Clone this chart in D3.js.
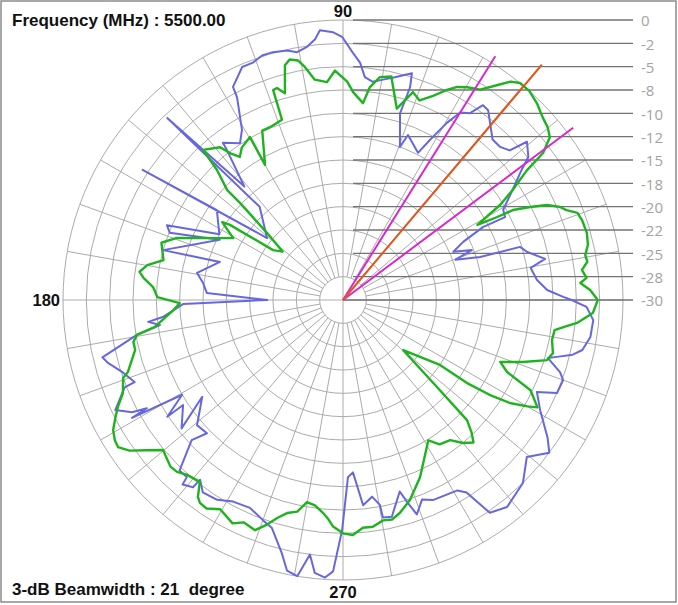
<!DOCTYPE html>
<html>
<head>
<meta charset="utf-8">
<script src="https://cdn.jsdelivr.net/npm/d3@7"></script>
<style>
  body { margin: 0; background: #fff; }
  svg { display: block; }
  .ring, .spoke { fill: none; stroke: #ababab; stroke-width: 1; }
  .levelLine { stroke: #737373; stroke-width: 1.4; }
  .levelLabel { fill: #a3a3a3; font-family: "Open Sans", sans-serif; font-size: 15px; }
  .angleLabel, .info { fill: #111; font-family: "Liberation Sans", Arial, sans-serif; font-weight: bold; }
</style>
</head>
<body>
<div id="polar-graph"></div>
<script>
/* global d3 */

// ring levels (dB) and the labels printed next to them
const dbTicks = [0, -2.5, -5, -7.5, -10, -12.5, -15, -17.5, -20, -22.5, -25, -27.5, -30];
const dbTickLabels = ['0', '-2', '-5', '-8', '-10', '-12', '-15', '-18', '-20', '-22', '-25', '-28', '-30'];

const angleLabels = [90, 180, 270];

const freqText = 'Frequency (MHz) : 5500.00';
const beamText = '3-dB Beamwidth : 21  degree';

// [angle deg (ccw from east), level dB]
const bluePattern = [
  [0, -5.5], [0.8, -6.4], [2.8, -8.1], [5.9, -9.1], [9.7, -9.6], [11.5, -7.9], [14.6, -9.6], [16.7, -10.2],
  [17.4, -14.6], [19.7, -17.2], [21.2, -15.2], [23.6, -17.1], [25.8, -15.7], [27.5, -13.1], [27.1, -10.5],
  [29.4, -10.3], [32.9, -8.4], [35.7, -6.6], [37.7, -4.9], [40.7, -4.0], [41.9, -6.0], [44.3, -6.5], [47.0, -6.5],
  [52.6, -4.4], [54.3, -4.3], [55.8, -5.8], [58.0, -6.3], [59.6, -8.0], [61.5, -10.5], [63.0, -12.3],
  [68.5, -11.0], [69.6, -12.5], [73.0, -9.1], [72.5, -6.1], [73.1, -4.6], [76.9, -5.5], [79.7, -6.0],
  [82.2, -6.4], [84.4, -6.0], [85.9, -4.5], [87.7, -3.5], [90.2, -1.8], [92.1, -1.3], [94.9, -1.0],
  [96.1, -1.9], [98.1, -2.6], [100.5, -3.0], [102.6, -2.6], [105.8, -2.4], [108.3, -2.4], [110.8, -2.8],
  [113.4, -2.8], [117.3, -4.3], [117.6, -5.5], [120.7, -8.8], [123.3, -9.9], [127.4, -8.8], [127.7, -9.6],
  [131.0, -13.9], [134.0, -2.9], [131.8, -16.6], [140.8, -19.5], [147.0, -4.4], [144.5, -13.4], [152.0, -15.0],
  [157.0, -9.5], [158.8, -10.1], [154.0, -15.3], [164.5, -10.0], [162.8, -16.2], [169.5, -14.1], [173.1, -14.9],
  [177.1, -15.4], [180.0, -21.9], [181.4, -12.9], [185.4, -10.6], [186.4, -9.0], [187.8, -10.2], [189.6, -7.6],
  [193.4, -3.5], [194.9, -3.9], [198.0, -5.1], [201.5, -6.0], [201.8, -4.8], [205.8, -2.9], [208.0, -4.4],
  [208.9, -6.0], [209.2, -4.1], [210.5, -10.0], [213.6, -7.4], [213.3, -9.5], [218.5, -7.9], [214.5, -11.7],
  [220.6, -9.4], [224.4, -9.6], [222.8, -7.9], [226.2, -4.7], [228.6, -4.7], [229.0, -3.8], [231.3, -4.3],
  [231.5, -5.4], [233.9, -4.5], [237.8, -4.7], [241.4, -5.4], [245.9, -5.6], [250.0, -4.9], [252.7, -4.4],
  [256.4, -2.1], [258.3, -0.4], [260.6, 0.0], [262.6, -2.5], [264.1, -0.6], [266.3, -0.2], [267.9, -0.9],
  [269.8, -5.4], [271.6, -11.0], [273.3, -11.5], [275.6, -7.9], [278.4, -8.7], [280.2, -7.7], [280.4, -6.3],
  [282.7, -6.2], [286.5, -8.6], [287.6, -7.3], [289.0, -5.7], [291.6, -7.0], [294.2, -6.5], [301.0, -6.2],
  [302.7, -5.5], [304.6, -2.3], [308.4, -1.7], [314.5, -2.5], [319.5, -4.1], [323.5, -2.5], [326.1, -3.6],
  [330.8, -5.8], [334.6, -7.0], [336.5, -5.0], [340.0, -4.9], [341.6, -5.5], [344.2, -7.2], [345.1, -6.3],
  [346.6, -4.7], [348.2, -3.8], [351.5, -3.2], [355.4, -3.1], [358.4, -3.9], [360, -5.5]
];

const greenPattern = [
  [0, -2.7], [2.3, -3.5], [3.0, -3.9], [4.1, -4.5], [5.2, -3.8], [7.2, -4.2], [8.9, -3.5], [10.5, -3.6],
  [12.7, -3.1], [15.4, -2.9], [18.5, -3.0], [20.4, -3.2], [21.9, -4.2], [23.2, -4.7], [25.0, -5.9],
  [26.4, -7.6], [27.9, -9.4], [28.3, -11.3], [29.2, -13.5], [31.2, -10.3], [32.9, -8.4], [35.2, -5.9],
  [36.3, -3.4], [38.2, -1.8], [40.2, -1.3], [42.5, -1.0], [45.4, -0.4], [48.3, 0.0], [50.8, 0.0], [52.5, -0.5],
  [54.4, -1.7], [56.9, -3.1], [59.7, -3.6], [61.8, -4.1], [63.7, -4.9], [66.2, -6.1], [69.0, -7.1],
  [71.4, -6.5], [74.3, -8.7], [77.8, -5.5], [80.6, -5.8], [82.8, -7.0], [84.2, -8.8], [87.2, -7.7],
  [88.9, -6.6], [92.0, -5.4], [94.2, -6.6], [97.3, -6.2], [99.3, -4.7], [100.6, -3.9], [102.5, -3.6],
  [103.9, -4.1], [105.7, -7.0], [107.3, -6.2], [108.4, -6.3], [108.7, -9.6], [112.9, -9.9], [115.5, -9.9],
  [120.0, -13.3], [119.7, -9.9], [123.6, -10.4], [125.8, -11.1], [127.5, -10.2], [128.8, -9.0], [133.0, -8.0],
  [134.1, -10.6], [136.5, -12.9], [136.7, -14.9], [138.6, -19.2], [141.3, -21.7], [144.5, -20.8],
  [146.4, -15.4], [147.2, -14.6], [150.6, -16.5], [159.5, -11.0], [162.5, -9.6], [167.5, -10.3], [169.9, -8.7],
  [172.1, -8.0], [173.7, -8.5], [176.1, -9.6], [179.1, -10.1], [181.1, -12.5], [183.4, -11.8], [188.2, -9.6],
  [189.6, -7.6], [191.3, -7.1], [193.5, -7.1], [198.5, -5.7], [199.5, -5.0], [202.9, -4.4], [205.4, -3.3],
  [207.2, -2.6], [209.5, -1.7], [211.6, -1.3], [213.2, -1.2], [215.2, -2.0], [217.4, -3.5], [219.8, -4.9],
  [224.0, -4.3], [226.0, -4.4], [228.3, -4.9], [231.8, -5.2], [233.6, -3.8], [234.8, -3.4], [236.8, -3.3],
  [239.6, -4.0], [243.7, -3.3], [245.9, -3.9], [249.1, -3.6], [251.3, -4.6], [253.2, -5.6], [255.3, -6.4],
  [257.8, -6.8], [259.9, -8.0], [262.2, -7.8], [264.6, -7.1], [266.1, -6.5], [267.5, -5.7], [270.0, -5.0],
  [272.4, -4.8], [275.0, -5.5], [277.5, -5.5], [280.3, -6.0], [282.6, -5.9], [285.0, -6.4], [288.5, -7.4],
  [293.5, -9.3], [301.3, -12.4], [303.8, -11.4], [307.4, -11.1], [310.0, -10.0], [312.5, -9.3], [314.1, -10.2],
  [315.9, -11.5], [317.3, -16.6], [320.2, -21.6], [326.2, -17.5], [326.2, -14.0], [327.1, -11.3], [328.3, -9.0],
  [330.0, -7.2], [331.1, -6.2], [334.3, -7.7], [336.3, -10.8], [338.5, -11.9], [341.0, -9.6], [343.6, -7.2],
  [345.8, -6.8], [349.2, -7.2], [351.9, -7.1], [353.0, -6.2], [354.4, -4.8], [357.0, -3.2], [360, -2.7]
];

// 3-dB beam edges and peak direction: [angle, length in dB, colour]
const beamLines = [
  [36.8, 0.8, '#d62ad0'],
  [58.0, 0.8, '#d62ad0'],
  [49.8, 3.0, '#e2561c']
];

const w = 678, h = 605;
const cx = 343, cy = 300, R = 280;

let svg = d3.select('#polar-graph')
  .append('svg')
    .attr('width', w)
    .attr('height', h);

svg.append('rect')
  .attr('x', 1).attr('y', 1)
  .attr('width', w - 3).attr('height', h - 4)
  .attr('fill', '#fff')
  .attr('stroke', '#8a8a8a')
  .attr('stroke-width', 1.5);

let rScale = d3.scaleLinear().domain([-30, 0]).range([0, R]);

let rad = a => a * Math.PI / 180;
let px = (a, r) => cx + r * Math.cos(rad(a));
let py = (a, r) => cy - r * Math.sin(rad(a));

let appendGroupTo = (name, appendTo) => {
  return appendTo
    .append('g')
      .attr('id', name)
}

let grid = appendGroupTo('grid', svg);

// rings
grid.selectAll('circle')
  .data(dbTicks.filter(d => d > -30))
  .enter()
  .append('circle')
    .attr('class', 'ring')
    .attr('cx', cx)
    .attr('cy', cy)
    .attr('r', d => rScale(d));

// spokes every 10 deg, starting at the first ring (main axes go through the centre)
let spokes = d3.range(0, 360, 10);
let innerR = rScale(dbTicks[dbTicks.length - 2]);
grid.selectAll('line')
  .data(spokes)
  .enter()
  .append('line')
    .attr('class', 'spoke')
    .attr('x1', d => px(d, d % 90 === 0 ? 0 : innerR))
    .attr('y1', d => py(d, d % 90 === 0 ? 0 : innerR))
    .attr('x2', d => px(d, R))
    .attr('y2', d => py(d, R));

// level lines + labels at the right
let levels = appendGroupTo('levels', svg);
levels.selectAll('line')
  .data(dbTicks)
  .enter()
  .append('line')
    .attr('class', 'levelLine')
    .attr('x1', d => d === -30 ? cx : cx + 10)
    .attr('x2', 633)
    .attr('y1', d => cy - rScale(d))
    .attr('y2', d => cy - rScale(d));

levels.selectAll('text')
  .data(dbTicks)
  .enter()
  .append('text')
    .attr('class', 'levelLabel')
    .attr('x', 641)
    .attr('y', d => cy - rScale(d) + 1)
    .attr('dy', '0.36em')
    .text((d, i) => dbTickLabels[i]);

// angle labels
let angLab = appendGroupTo('angleLabels', svg);
angLab.selectAll('text')
  .data(angleLabels)
  .enter()
  .append('text')
    .attr('class', 'angleLabel')
    .style('font-size', '16.5px')
    .attr('text-anchor', d => d === 180 ? 'end' : 'middle')
    .attr('x', d => d === 180 ? cx - R - 3 : cx)
    .attr('y', d => d === 90 ? cy - R - 3 : d === 270 ? cy + R + 18 : cy + 6)
    .text(d => d);

// patterns
let lineCont = appendGroupTo('lineCont', svg);
let valueline = d3.lineRadial()
  .angle(d => rad(90 - d[0]))
  .radius(d => rScale(d[1]));

lineCont.append('path')
  .attr('transform', `translate(${cx},${cy})`)
  .attr('d', valueline(bluePattern))
  .attr('fill', 'none')
  .attr('stroke', '#6767de')
  .attr('stroke-width', 2)
  .attr('stroke-linejoin', 'round');

lineCont.append('path')
  .attr('transform', `translate(${cx},${cy})`)
  .attr('d', valueline(greenPattern))
  .attr('fill', 'none')
  .attr('stroke', '#1fb31f')
  .attr('stroke-width', 2.4)
  .attr('stroke-linejoin', 'round');

lineCont.selectAll('.beam')
  .data(beamLines)
  .enter()
  .append('line')
    .attr('class', 'beam')
    .attr('x1', cx)
    .attr('y1', cy)
    .attr('x2', d => px(d[0], rScale(d[1])))
    .attr('y2', d => py(d[0], rScale(d[1])))
    .attr('stroke', d => d[2])
    .attr('stroke-width', 2);

// info texts
svg.append('text')
  .attr('class', 'info')
  .attr('x', 12)
  .attr('y', 26)
  .style('font-size', '17px')
  .style('white-space', 'pre')
  .text(freqText);

svg.append('text')
  .attr('class', 'info')
  .attr('x', 12)
  .attr('y', 595)
  .style('font-size', '17px')
  .style('white-space', 'pre')
  .text(beamText);
</script>
</body>
</html>
